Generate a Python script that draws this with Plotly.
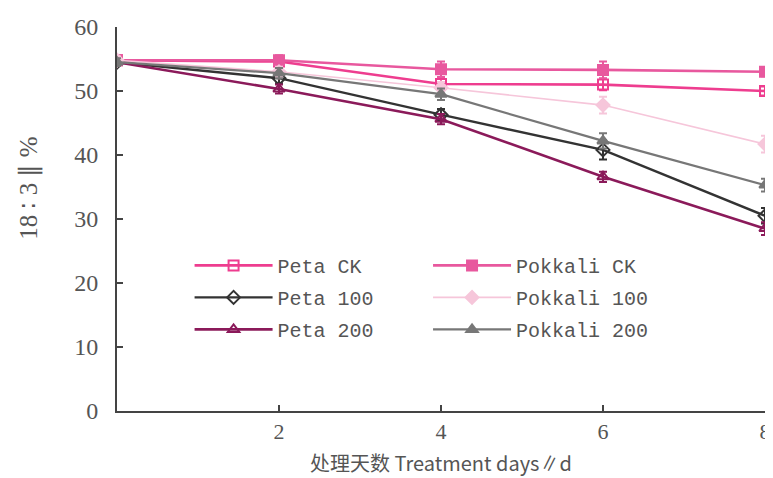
import plotly.graph_objects as go

days = [0, 2, 4, 6, 8]
peta_ck = [54.8, 54.6, 51.1, 51.0, 50.0]
peta_100 = [54.5, 52.0, 46.3, 40.8, 30.5]
peta_200 = [54.5, 50.3, 45.6, 36.6, 28.5]
pokkali_ck = [54.8, 54.8, 53.4, 53.3, 53.0]
pokkali_100 = [54.8, 53.0, 50.5, 47.8, 41.7]
pokkali_200 = [54.5, 52.8, 49.5, 42.2, 35.3]

err_peta_ck = [0.6, 0.6, 0.8, 0.9, 0.7]
err_peta_100 = [0.6, 0.8, 0.9, 1.5, 1.2]
err_peta_200 = [0.6, 0.7, 0.8, 0.8, 1.0]
err_pokkali_ck = [0.6, 0.8, 1.2, 1.3, 0.7]
err_pokkali_100 = [0.6, 0.8, 0.9, 1.3, 1.3]
err_pokkali_200 = [0.6, 0.8, 0.9, 1.2, 1.0]

x_title = "处理天数 Treatment days∥d"
y_title = "18 ∶ 3 ∥ %"

series = [
    ("Peta CK", peta_ck, err_peta_ck, "#ee3d8f", "square-open", "legend", 2.6),
    ("Peta 100", peta_100, err_peta_100, "#333333", "diamond-open", "legend", 2.4),
    ("Peta 200", peta_200, err_peta_200, "#8b1a5a", "triangle-up-open", "legend", 2.6),
    ("Pokkali CK", pokkali_ck, err_pokkali_ck, "#e8589e", "square", "legend2", 2.6),
    ("Pokkali 100", pokkali_100, err_pokkali_100, "#f6c6da", "diamond", "legend2", 1.6),
    ("Pokkali 200", pokkali_200, err_pokkali_200, "#777777", "triangle-up", "legend2", 2.2),
]

fig = go.Figure()
for name, vals, errs, color, sym, leg, lw in series:
    fig.add_trace(go.Scatter(
        x=days, y=vals, name=name, mode="lines+markers",
        line=dict(color=color, width=lw),
        marker=dict(symbol=sym, size=10, color=color, line=dict(color=color, width=2)),
        error_y=dict(type="data", array=errs, color=color, thickness=2, width=4),
        legend=leg, legendgroup=name,
    ))

font_txt = "Liberation Mono"
leg_font = dict(family=font_txt, size=20, color="#555555")
# page body has an 8px margin, so the figure is drawn 8px in from top-left
fig.update_layout(
    width=765, height=470,
    margin=dict(l=109, r=8, t=19, b=67),
    plot_bgcolor="white", paper_bgcolor="white",
    font=dict(family="Liberation Serif", color="#555555", size=24),
    legend=dict(x=0.112, y=0.43, xanchor="left", yanchor="top", font=leg_font,
                bgcolor="rgba(0,0,0,0)", itemwidth=78, tracegroupgap=3),
    legend2=dict(x=0.48, y=0.43, xanchor="left", yanchor="top", font=leg_font,
                 bgcolor="rgba(0,0,0,0)", itemwidth=78, tracegroupgap=3),
    xaxis=dict(range=[0, 8], tickvals=[2, 4, 6, 8], ticks="inside", ticklen=6,
               tickwidth=2, tickcolor="#444", showline=True, linecolor="#444",
               linewidth=2, showgrid=False, zeroline=False, automargin=False,
               ticklabelstandoff=0, tickfont=dict(size=22)),
    yaxis=dict(range=[0, 60], tickvals=[0, 10, 20, 30, 40, 50, 60], ticks="inside",
               ticklen=6, tickwidth=2, tickcolor="#444", showline=True,
               linecolor="#444", linewidth=2, showgrid=False, zeroline=False,
               automargin=False, ticklabelstandoff=12),
    annotations=[
        dict(text=x_title, xref="paper", yref="paper", x=0.5, y=-0.09,
             xanchor="center", yanchor="top", showarrow=False,
             font=dict(family="Noto Sans CJK SC", size=20, color="#555555")),
        dict(text=y_title, xref="paper", yref="paper", x=-0.135, y=0.58,
             xanchor="center", yanchor="middle", showarrow=False, textangle=-90,
             font=dict(family="Liberation Serif", size=25, color="#555555")),
    ],
)

fig.write_html("out.html")
